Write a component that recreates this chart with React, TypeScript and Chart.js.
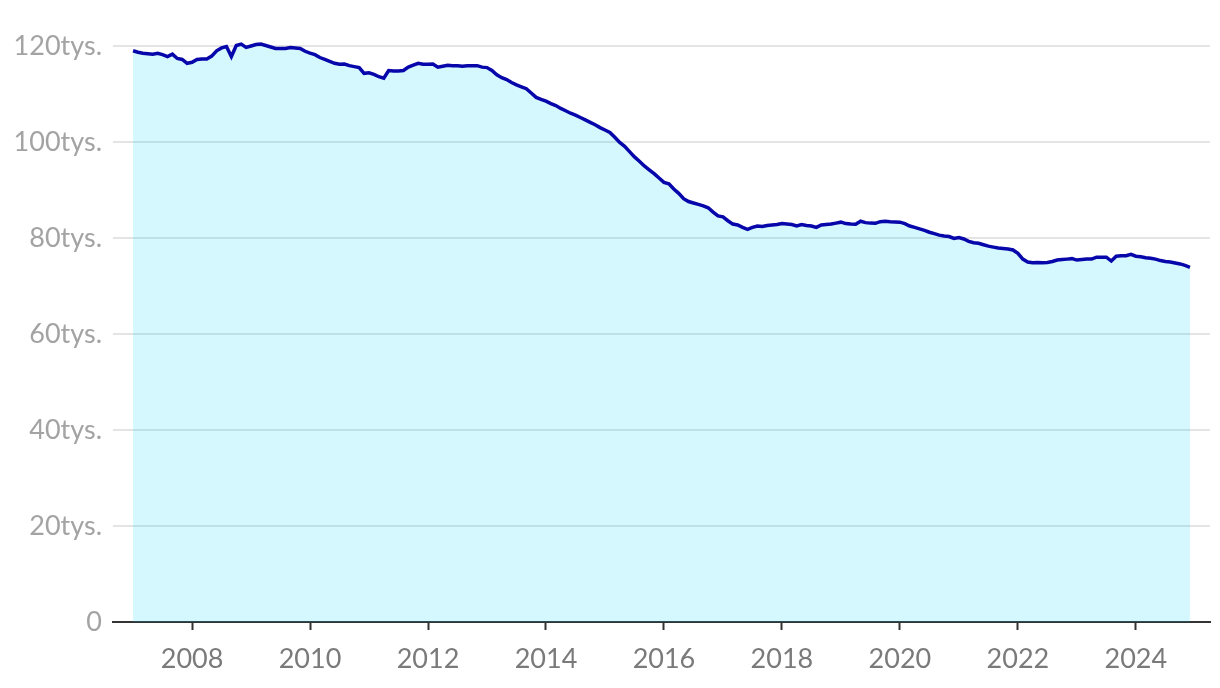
import React, { useEffect, useRef } from "react";
import { Chart, registerables } from "chart.js";

Chart.register(...registerables);

const startYear = 2007;
const xTickYears = [2008, 2010, 2012, 2014, 2016, 2018, 2020, 2022, 2024];
const yTickValues = [0, 20, 40, 60, 80, 100, 120];

// Monthly values, thousands
const y2007 = [119.0, 118.7, 118.5, 118.4, 118.3, 118.5, 118.2, 117.8, 118.3, 117.4, 117.2, 116.4];
const y2008 = [116.6, 117.2, 117.3, 117.3, 117.9, 119.0, 119.6, 119.9, 117.8, 120.1, 120.4, 119.7];
const y2009 = [120.0, 120.3, 120.4, 120.1, 119.8, 119.5, 119.5, 119.5, 119.7, 119.6, 119.5, 118.9];
const y2010 = [118.5, 118.2, 117.6, 117.2, 116.8, 116.4, 116.2, 116.25, 115.9, 115.7, 115.5, 114.3];
const y2011 = [114.4, 114.1, 113.6, 113.3, 114.9, 114.8, 114.8, 114.9, 115.6, 116.0, 116.4, 116.2];
const y2012 = [116.2, 116.25, 115.6, 115.8, 116.0, 115.9, 115.9, 115.8, 115.9, 115.9, 115.9, 115.6];
const y2013 = [115.5, 114.9, 114.0, 113.4, 113.0, 112.4, 111.9, 111.5, 111.1, 110.2, 109.3, 108.9];
const y2014 = [108.5, 108.0, 107.6, 107.0, 106.5, 106.0, 105.6, 105.1, 104.6, 104.1, 103.6, 103.0];
const y2015 = [102.5, 102.0, 101.0, 99.9, 99.1, 98.0, 96.9, 96.0, 95.0, 94.2, 93.4, 92.5];
const y2016 = [91.6, 91.3, 90.2, 89.3, 88.2, 87.6, 87.3, 87.0, 86.7, 86.3, 85.4, 84.6];
const y2017 = [84.4, 83.6, 82.9, 82.7, 82.2, 81.8, 82.2, 82.5, 82.4, 82.6, 82.7, 82.8];
const y2018 = [83.0, 82.9, 82.8, 82.5, 82.8, 82.6, 82.5, 82.2, 82.7, 82.8, 82.9, 83.1];
const y2019 = [83.3, 83.0, 82.9, 82.85, 83.5, 83.2, 83.1, 83.05, 83.4, 83.5, 83.4, 83.35];
const y2020 = [83.3, 83.0, 82.5, 82.2, 81.9, 81.6, 81.2, 80.9, 80.6, 80.4, 80.3, 79.9];
const y2021 = [80.1, 79.8, 79.3, 79.0, 78.9, 78.6, 78.3, 78.1, 77.9, 77.8, 77.7, 77.5];
const y2022 = [76.8, 75.6, 75.0, 74.85, 74.9, 74.85, 74.9, 75.1, 75.4, 75.5, 75.6, 75.7];
const y2023 = [75.4, 75.5, 75.6, 75.6, 76.0, 76.0, 76.0, 75.2, 76.2, 76.3, 76.3, 76.6];
const y2024 = [76.2, 76.1, 75.9, 75.8, 75.6, 75.3, 75.1, 75.0, 74.8, 74.6, 74.3, 73.9];

const monthlyValues = [
  ...y2007, ...y2008, ...y2009, ...y2010, ...y2011, ...y2012,
  ...y2013, ...y2014, ...y2015, ...y2016, ...y2017, ...y2018,
  ...y2019, ...y2020, ...y2021, ...y2022, ...y2023, ...y2024,
];

export default function App() {
  const canvasRef = useRef<HTMLCanvasElement | null>(null);

  useEffect(() => {
    if (!canvasRef.current) return;
    const points = monthlyValues.map((v, i) => ({ x: startYear + i / 12, y: v }));
    const lastX = startYear + (monthlyValues.length - 1) / 12;
    const pad = 0.34;
    const font = "Lato, 'Noto Sans', sans-serif";

    const chart = new Chart(canvasRef.current, {
      type: "line",
      data: {
        datasets: [
          {
            data: points,
            borderColor: "#0606aa",
            borderWidth: 3.5,
            backgroundColor: "rgba(0, 214, 243, 0.17)",
            fill: "origin",
            pointRadius: 0,
            tension: 0,
            clip: false as any,
          },
        ],
      },
      options: {
        animation: false,
        responsive: false,
        maintainAspectRatio: false,
        layout: { padding: { top: 46, right: 10, left: 0, bottom: 0 } },
        plugins: { legend: { display: false }, tooltip: { enabled: false } },
        scales: {
          x: {
            type: "linear",
            min: startYear - pad,
            max: lastX + pad,
            afterBuildTicks: (scale: any) => {
              scale.ticks = xTickYears.map((v) => ({ value: v }));
            },
            afterFit: (scale: any) => {
              scale.height = 66;
            },
            border: { display: true, color: "#333333", width: 2 },
            grid: {
              drawOnChartArea: false,
              drawTicks: true,
              tickLength: 8,
              tickColor: "#333333",
              tickWidth: 2,
            },
            ticks: {
              autoSkip: false,
              maxRotation: 0,
              padding: 13,
              color: "#7a7a7a",
              font: { family: font, size: 27 },
              callback: (v: any) => String(v),
            },
          },
          y: {
            type: "linear",
            min: 0,
            max: 120,
            afterBuildTicks: (scale: any) => {
              scale.ticks = yTickValues.map((v) => ({ value: v }));
            },
            afterFit: (scale: any) => {
              scale.width = 113;
            },
            border: { display: false },
            grid: {
              color: "#e4e4e4",
              lineWidth: 2,
              drawTicks: false,
            },
            ticks: {
              padding: 11,
              color: "#a3a3a3",
              font: { family: font, size: 27 },
              callback: (v: any) => (v === 0 ? "0" : `${v}tys.`),
            },
          },
        },
      },
    });
    return () => chart.destroy();
  }, []);

  return (
    <div style={{ position: "fixed", left: 0, top: 0, width: 1220, height: 688, background: "#ffffff" }}>
      <canvas ref={canvasRef} width={1220} height={688} style={{ display: "block", width: 1220, height: 688 }} />
    </div>
  );
}
